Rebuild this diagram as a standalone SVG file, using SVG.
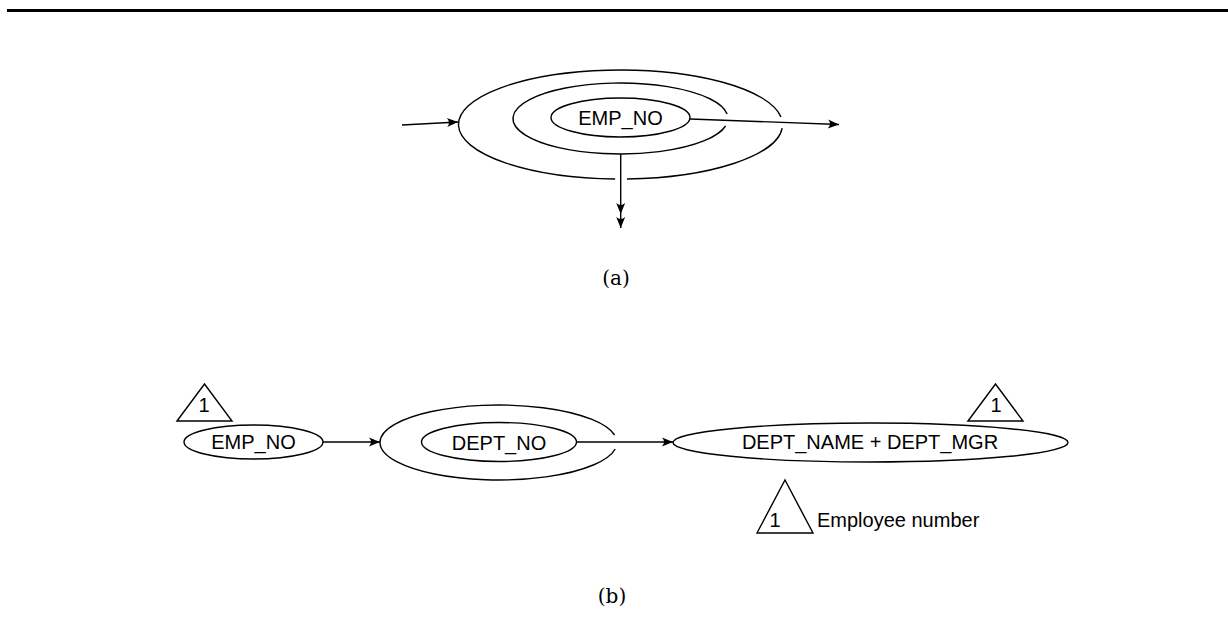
<svg xmlns="http://www.w3.org/2000/svg" width="1228" height="644" viewBox="0 0 1228 644">
  <style>
    .ln { fill: none; stroke: #000; stroke-width: 1.4; }
    .arr { fill: none; stroke: #000; stroke-width: 1.4; marker-end: url(#ah); }
    .lbl { font-family: "Liberation Sans", Arial, sans-serif; font-size: 20px; fill: #000; text-anchor: middle; }
    .cap { font-family: "DejaVu Serif", "Liberation Serif", serif; font-size: 20px; fill: #000; text-anchor: middle; }
  </style>
  <defs>
    <marker id="ah" viewBox="-12 -6 13 12" markerWidth="13" markerHeight="12" refX="0" refY="0" orient="auto" markerUnits="userSpaceOnUse">
      <path d="M0,0 L-11,-4.5 Q-7,0 -11,4.5 Z" fill="#000"/>
    </marker>
  </defs>

  <!-- page rule -->
  <rect x="7" y="9" width="1221" height="3" fill="#000"/>

  <!-- (a) nested key rings around EMP_NO -->
  <g id="a-outer-ring">
    <path class="ln" d="M782.16,128.02 A162,54.5 0 0 1 627,178.96 M615.13,178.97 A162,54.5 0 1 1 780.96,117.01"/>
  </g>
  <g id="a-middle-ring">
    <path class="ln" d="M725.57,126 A107.5,35.5 0 1 1 727.13,114"/>
  </g>
  <g id="a-emp-no">
    <ellipse class="ln" cx="620.5" cy="117.5" rx="69.5" ry="19.5"/>
    <text class="lbl" x="620.5" y="124.5">EMP_NO</text>
  </g>

  <!-- (b) EMP_NO -> DEPT_NO -> DEPT_NAME + DEPT_MGR -->
  <g id="b-emp-no">
    <ellipse class="ln" cx="253.5" cy="442" rx="69.5" ry="17"/>
    <text class="lbl" x="253.5" y="449">EMP_NO</text>
  </g>
  <g id="b-emp-no-mark">
    <polygon class="ln" points="177,421 204.5,384 232,421"/>
    <text class="lbl" x="204" y="412">1</text>
  </g>
  <g id="b-dept-no">
    <path class="ln" d="M615.2,449 A118.5,37.5 0 1 1 614.6,435"/>
    <ellipse class="ln" cx="499" cy="442" rx="77.5" ry="19.5"/>
    <text class="lbl" x="499" y="450">DEPT_NO</text>
  </g>
  <g id="b-dept-name">
    <ellipse class="ln" cx="870.5" cy="442.5" rx="197.5" ry="19.5"/>
    <text class="lbl" x="870" y="449">DEPT_NAME + DEPT_MGR</text>
  </g>
  <g id="b-dept-name-mark">
    <polygon class="ln" points="968,421 995.5,384 1023,421"/>
    <text class="lbl" x="996" y="412">1</text>
  </g>
  <g id="legend">
    <polygon class="ln" points="757,533 785,480 813,533"/>
    <text class="lbl" x="775" y="527">1</text>
    <text class="lbl" x="817" y="527" style="text-anchor:start">Employee number</text>
  </g>

  <!-- connectors -->
  <g id="connectors">
    <path class="arr" d="M402,125 L458,122"/>
    <path class="arr" d="M690,119 L839,124.5"/>
    <path class="arr" d="M620.7,154 L620.7,214 L620.7,228" style="marker-mid:url(#ah)"/>
    <path class="arr" d="M323,442 L380,442"/>
    <path class="arr" d="M576.5,442 L673,442"/>
  </g>

  <!-- captions -->
  <text class="cap" x="616" y="285">(a)</text>
  <text class="cap" x="612" y="603">(b)</text>
</svg>
